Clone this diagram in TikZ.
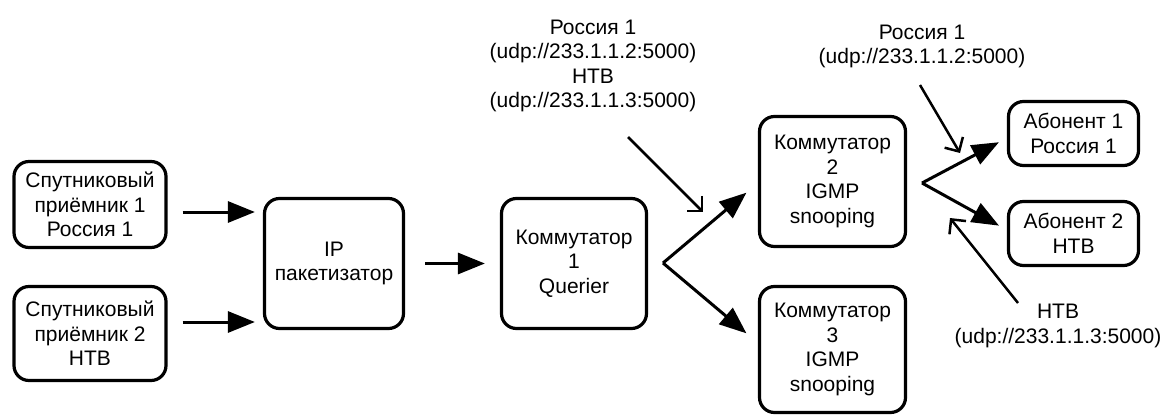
\documentclass[tikz,border=0pt]{standalone}
\usepackage{fontspec}
\setmainfont{Liberation Sans}
\usetikzlibrary{arrows.meta}

\begin{document}
\begin{tikzpicture}[x=1pt,y=-1pt,
  every node/.style={font=\fontsize{21pt}{24.5pt}\selectfont},
  box/.style={draw,line width=3.2pt,rounded corners=15pt,align=center,inner sep=0pt},
  arr/.style={line width=3pt,-{Triangle[length=27pt,width=21pt]}},
  thinarr/.style={line width=2.5pt,-{Straight Barb[angle=90:15pt]}}]
\useasboundingbox (0,0) rectangle (1162,415);

\node[box,minimum width=152pt,minimum height=86pt] (S1) at (90,204.5) {Спутниковый\\приёмник 1\\Россия 1};
\node[box,minimum width=152pt,minimum height=94pt] (S2) at (90,333.5) {Спутниковый\\приёмник 2\\НТВ};

\node[box,minimum width=139pt,minimum height=130pt] (IP) at (334,263.5) {IP\\пакетизатор};

\node[box,minimum width=145pt,minimum height=130pt] (K1) at (574,263.5) {Коммутатор\\1\\Querier};
\node[box,minimum width=146pt,minimum height=130pt] (K2) at (832.5,181.5) {Коммутатор\\2\\IGMP\\snooping};
\node[box,minimum width=146pt,minimum height=126pt] (K3) at (832.5,349.5) {Коммутатор\\3\\IGMP\\snooping};

\node[box,minimum width=130pt,minimum height=64pt] (A1) at (1073.5,133.5) {Абонент 1\\Россия 1};
\node[box,minimum width=130pt,minimum height=64pt] (A2) at (1073.5,233.5) {Абонент 2\\НТВ};

% multicast groups
\node[align=center] (G1) at (593,66) {Россия 1\\(udp://233.1.1.2:5000)\\НТВ\\(udp://233.1.1.3:5000)};
\node[align=center] (G2) at (922,46.5) {Россия 1\\(udp://233.1.1.2:5000)};
\node[align=center] (G3) at (1058,326) {НТВ\\(udp://233.1.1.3:5000)};

\coordinate (F1) at (663,263);
\coordinate (F2) at (922,183);
\coordinate (G1a) at (628,137);
\coordinate (G1b) at (703,212);
\coordinate (G2a) at (920,85);
\coordinate (G2b) at (960,153);
\coordinate (G3a) at (1018,303);
\coordinate (G3b) at (950,218);

\draw[arr,shorten <=15pt,shorten >=8pt] (S1.east |- 0,212) -- (IP.west |- 0,212);
\draw[arr,shorten <=15pt,shorten >=8pt] (S2.east |- 0,322) -- (IP.west |- 0,322);
\draw[arr,shorten <=20pt,shorten >=15pt] (IP.east) -- (K1.west);

\draw[arr,shorten >=15pt] (F1) -- (K2.west |- 0,183);
\draw[arr,shorten >=15pt] (F1) -- (K3.west |- 0,343);
\draw[arr,shorten >=9pt] (F2) -- (A1.west |- 0,138);
\draw[arr,shorten >=9pt] (F2) -- (A2.west |- 0,230);

\draw[thinarr] (G1a) -- (G1b);
\draw[thinarr] (G2a) -- (G2b);
\draw[thinarr] (G3a) -- (G3b);

\end{tikzpicture}
\end{document}
